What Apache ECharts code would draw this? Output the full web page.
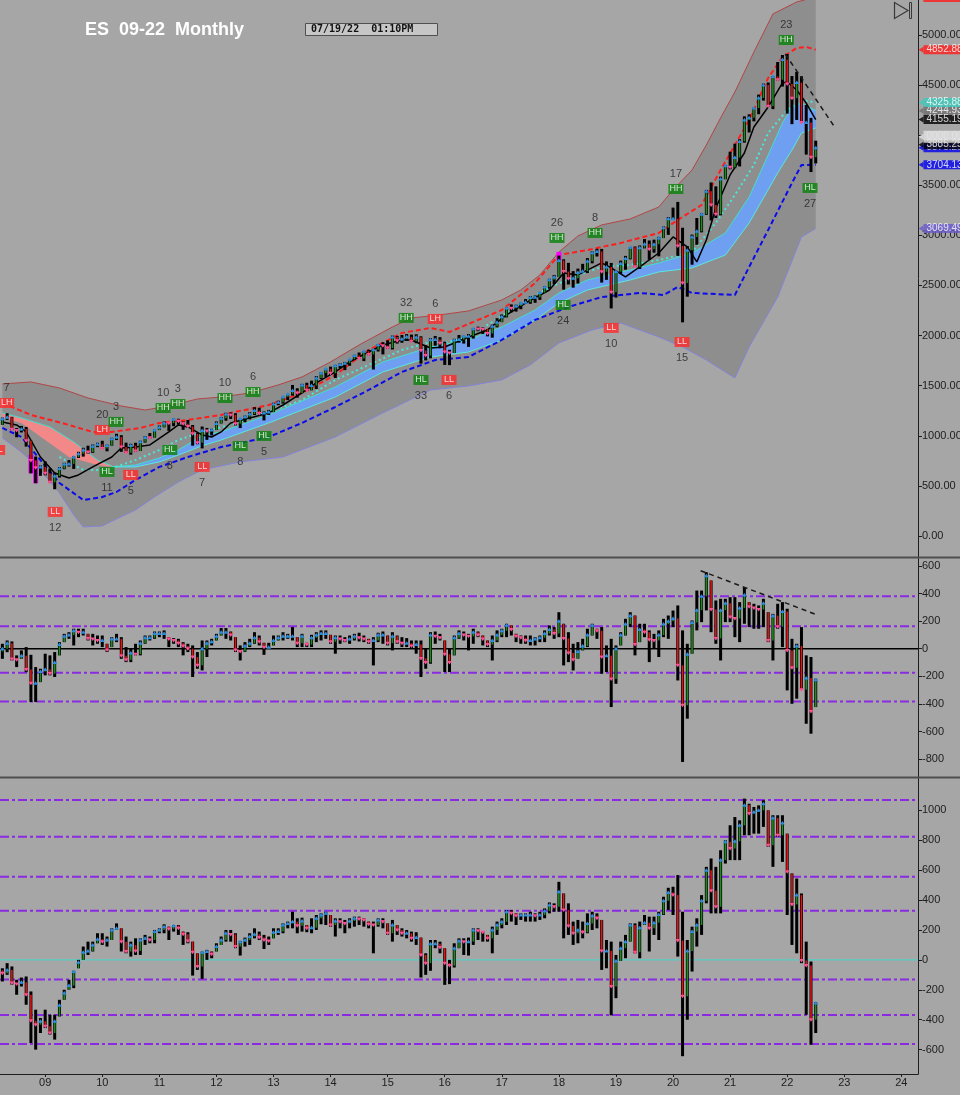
<!DOCTYPE html>
<html><head><meta charset="utf-8">
<script src="https://cdn.jsdelivr.net/npm/echarts@6/dist/echarts.min.js"></script>
<style>html,body{margin:0;padding:0;background:#a6a6a6;}#c{width:960px;height:1095px;}</style>
</head><body><div id="c"></div>
<script>
// ---------- categories / ticks ----------
const firstMonth = '2008-04';
const yearLabels = ['09','10','11','12','13','14','15','16','17','18','19','20','21','22','23','24'];
const yearTickIdx = [9,21,33,45,57,69,81,93,105,117,129,141,153,165,177,189];
const priceTicks = [0,500,1000,1500,2000,2500,3000,3500,4000,4500,5000];
// 4000.00 is hidden behind the last-price tags in the original
const priceTickLabels = [0,500,1000,1500,2000,2500,3000,3500,4500,5000];
const midTicks = [-800,-600,-400,-200,0,200,400,600];
const lowTicks = [-600,-400,-200,0,200,400,600,800,1000];
const midLevels = [381,164,-174,-382];
const lowLevels = [1069,824,556,329,-131,-369,-562];

// ---------- monthly price bars (Apr 2008 .. Jul 2022) ----------
const priceOpen = [
1111,1171,1185,1065,1052,1068,951,754,681,
688,626,535,598,673,719,719,787,821,857,836,896,
915,874,904,969,987,889,831,902,849,941,983,981,
1058,1086,1127,1126,1164,1145,1121,1092,1019,931,1053,1047,
1058,1122,1176,1218,1208,1120,1172,1189,1217,1251,1222,1226,
1236,1318,1335,1389,1418,1451,1426,1506,1453,1502,1577,1626,
1668,1623,1699,1712,1724,1764,1800,1771,1843,1812,1858,1908,
1899,1875,1985,1948,1966,1987,1943,1984,1852,1800,1959,1960,
1924,1835,1827,1955,1960,1992,1994,2069,2066,2063,2021,2094,
2134,2189,2274,2273,2294,2322,2333,2380,2382,2429,2485,2558,
2584,2749,2639,2566,2573,2630,2643,2741,2827,2839,2637,2685,
2432,2639,2719,2769,2881,2687,2877,2915,2861,2912,2973,3076,
3166,3166,2894,2525,2852,2984,3040,3211,3440,3303,3210,3562,
3696,3679,3776,3938,4151,4174,4271,4371,4501,4288,4586,4553,
4756,4511,4369,4525,4127,4127,3780];
const priceHigh = [
1182,1225,1189,1077,1098,1088,952,792,704,
744,675,632,688,730,757,796,840,880,901,913,930,
950,912,980,1020,1006,931,920,930,951,996,1027,1062,
1103,1144,1133,1171,1170,1146,1157,1107,1030,1092,1078,1070,
1143,1188,1230,1232,1225,1173,1202,1236,1285,1280,1244,1258,
1330,1350,1390,1418,1507,1474,1518,1529,1550,1596,1633,1669,
1690,1707,1724,1737,1764,1808,1831,1845,1859,1858,1915,1933,
1952,2000,1997,2006,2015,2010,2013,1993,1901,1974,1996,1984,
1939,1858,1968,2006,1998,2015,2073,2089,2083,2064,2109,2173,
2211,2281,2311,2308,2328,2364,2394,2401,2429,2492,2567,2605,
2798,2761,2726,2643,2668,2716,2773,2841,2866,2865,2740,2725,
2643,2748,2795,2885,2889,2899,2963,2949,2957,2985,3089,3183,
3277,3334,3076,2894,3008,3173,3220,3454,3528,3489,3586,3700,
3835,3915,3960,4188,4208,4275,4405,4515,4526,4590,4730,4800,
4810,4590,4632,4588,4302,4172,3945];
const priceLow = [
1109,1158,1057,985,1033,892,625,526,600,
605,535,466,583,666,693,669,778,792,820,829,886,
871,845,901,957,840,828,811,840,848,932,973,981,
1057,1084,1049,1095,1111,1059,1083,901,915,874,959,1003,
1058,1122,1150,1167,1102,1077,1135,1164,1207,1213,1153,1208,
1236,1305,1321,1356,1401,1380,1425,1448,1453,1467,1567,1587,
1610,1577,1674,1655,1699,1755,1770,1745,1804,1661,1841,1812,
1868,1861,1920,1928,1947,1936,1924,1720,1752,1773,1899,1873,
1707,1705,1826,1929,1920,1887,1970,2043,2015,1992,1979,2082,
2134,2181,2232,2239,2263,2315,2317,2327,2356,2429,2467,2515,
2584,2458,2510,2478,2519,2623,2624,2721,2789,2529,2556,2271,
2379,2616,2657,2760,2685,2664,2870,2757,2827,2791,2973,3005,
3154,2795,2132,2388,2707,2906,3030,3204,3149,3173,3200,3560,
3659,3670,3688,3925,4027,4138,4209,4345,4286,4260,4546,4485,
4215,4110,4152,4124,3806,3632,3718];
const priceClose = [
1171,1185,1065,1052,1068,951,754,681,688,
626,535,598,673,719,719,787,821,857,836,896,915,
874,904,969,987,889,831,902,849,941,983,981,1058,
1086,1127,1126,1164,1145,1121,1092,1019,931,1053,1047,1058,
1122,1176,1218,1208,1120,1172,1189,1217,1251,1222,1226,1236,
1318,1335,1389,1418,1451,1426,1506,1453,1502,1577,1626,1668,
1623,1699,1712,1724,1764,1800,1771,1843,1812,1858,1908,1899,
1875,1985,1948,1966,1987,1943,1984,1852,1800,1959,1960,1924,
1835,1827,1955,1960,1992,1994,2069,2066,2063,2021,2094,2134,
2189,2274,2273,2294,2322,2333,2380,2382,2429,2485,2558,2584,
2749,2639,2566,2573,2630,2643,2741,2827,2839,2637,2685,2432,
2639,2719,2769,2881,2687,2877,2915,2861,2912,2973,3076,3166,
3166,2894,2525,2852,2984,3040,3211,3440,3303,3210,3562,3696,
3679,3776,3938,4151,4174,4271,4371,4501,4288,4586,4553,4756,
4511,4369,4525,4127,4127,3780,3875];

// ---------- overlay studies on the price panel: [month index, value] ----------
const upperEnv = [[0,1517],[6,1537],[12,1477],[18,1377],[25,1297],[30,1257],[35,1297],[41,1367],[46,1387],[52,1427],[58,1507],[63,1587],[69,1737],[75,1906],[82,2086],[86,2176],[92,2206],[98,2246],[105,2355],[109,2455],[113,2605],[117,2834],[121,2994],[126,3104],[132,3164],[138,3283],[141,3453],[145,3653],[148,3902],[151,4172],[154,4431],[158,4830],[162,5210],[167,5329],[171,5380]];
const lowerEnv = [[0,978],[4,838],[8,659],[12,429],[15,210],[17,90],[21,100],[24,170],[28,259],[32,389],[37,539],[42,659],[50,739],[59,788],[70,988],[80,1228],[90,1457],[98,1497],[105,1557],[111,1707],[117,1926],[124,2056],[130,2126],[138,1986],[143,1886],[148,1756],[154,1577],[157,1886],[163,2385],[168,2984],[171,3069]];
const redBand = [[0,1327],[6,1208],[14,1108],[19,1038],[23,1038],[29,1078],[33,1128],[39,1158],[46,1208],[56,1307],[63,1427],[70,1607],[77,1856],[84,2026],[90,2076],[94,2036],[105,2255],[112,2525],[117,2804],[123,2854],[130,2924],[138,3024],[142,3154],[147,3303],[151,3653],[154,3902],[157,4152],[161,4571],[164,4780],[167,4870],[169,4880],[171,4853]];
const blueBand = [[0,1078],[4,988],[8,758],[12,529],[17,359],[21,389],[24,439],[28,559],[33,689],[39,788],[46,888],[56,988],[63,1128],[70,1287],[77,1457],[84,1637],[91,1756],[98,1786],[105,1956],[112,2156],[119,2285],[126,2385],[134,2425],[139,2405],[142,2485],[145,2425],[154,2405],[157,2685],[161,3054],[166,3523],[168,3703],[171,3704]];
const blackMA = [[0,1138],[3,1108],[5,1038],[8,788],[11,629],[14,579],[16,609],[19,689],[23,788],[25,878],[28,888],[31,908],[35,1038],[37,1108],[39,1088],[42,1008],[44,988],[46,1038],[48,1128],[52,1178],[56,1228],[59,1307],[63,1427],[66,1527],[70,1637],[73,1737],[77,1836],[80,1906],[84,1956],[86,1956],[90,1876],[93,1886],[98,1986],[102,2056],[106,2206],[110,2325],[115,2455],[118,2625],[121,2605],[126,2725],[128,2675],[131,2585],[134,2685],[138,2824],[141,2984],[144,2884],[146,2735],[148,2954],[150,3273],[153,3603],[156,3822],[158,4082],[161,4281],[164,4521],[165,4531],[167,4451],[169,4321],[171,4155]];
const cyanLine = [[12,788],[17,659],[22,659],[28,758],[33,858],[37,958],[42,1038],[48,1108],[56,1238],[63,1357],[70,1557],[77,1707],[84,1856],[90,1936],[93,1926],[98,1986],[107,2255],[114,2455],[120,2585],[126,2685],[132,2705],[138,2754],[145,2834],[150,3124],[154,3403],[158,3703],[161,4022],[165,4251],[168,4351],[171,4326]];
const pinkTop = [[0,1228],[4,1178],[10,1088],[15,938],[20,758],[23,699]];
const pinkBot = [[0,1178],[4,1128],[9,958],[14,788],[20,709],[23,689]];
const blueTop = [[23,689],[28,709],[33,778],[37,858],[42,1000],[46,1040],[56,1208],[70,1487],[80,1737],[90,1886],[98,1956],[105,2086],[112,2255],[117,2425],[123,2555],[132,2655],[138,2725],[145,2824],[152,3024],[157,3383],[161,3802],[164,4122],[166,4281],[168,4321],[171,4245]];
const blueBot = [[23,689],[28,689],[33,739],[37,808],[42,900],[46,958],[56,1128],[70,1387],[80,1637],[90,1786],[98,1836],[105,1956],[112,2156],[117,2325],[123,2455],[132,2555],[138,2635],[145,2675],[152,2804],[157,3124],[163,3623],[166,3852],[168,4022],[171,4072]];
const magentaSegs = [[6,810,625],[7,760,526],[117,2835,2755]];
const priceTrend = [[164.6,4810],[175.1,4072]];
// swing labels: [month, value, text, count, 1 = count above / -1 = below]
const swings = [[0.9,1327,'LH','7',1],[-1,858,'LL','',-1],[21,1058,'LH','20',1],[23.9,1138,'HH','3',1],[22,639,'HL','11',-1],[11.1,240,'LL','12',-1],[27,609,'LL','5',-1],[33.8,1277,'HH','10',1],[36.9,1317,'HH','3',1],[35.2,858,'HL','8',-1],[42,689,'LL','7',-1],[46.8,1377,'HH','10',1],[52.7,1437,'HH','6',1],[50,898,'HL','8',-1],[55,998,'HL','5',-1],[84.9,2176,'HH','32',1],[91,2166,'LH','6',1],[88,1557,'HL','33',-1],[93.9,1557,'LL','6',-1],[116.6,2974,'HH','26',1],[124.6,3024,'HH','8',1],[117.9,2305,'HL','24',-1],[128,2076,'LL','10',-1],[141.6,3463,'HH','17',1],[142.9,1936,'LL','15',-1],[164.8,4950,'HH','23',1],[169.8,3473,'HL','27',-1]];
// last-value tags on the price axis
const tagValues = [5372.88,4852.88,4244.93,4325.88,4155.19,3875.25,3905,3985,3704.13,3069.49];
const tagTexts  = ['5372.88','4852.88','4244.93','4325.88','4155.19','3875.25','3885.25','','3704.13','3069.49'];
const tagColors = ['#ff1a1a','#ff1a1a','#6e6e6e','#3cc9b9','#000000','#0000ee','#000000','#e4e4e4','#0000ee','#6a5acd'];

// ---------- middle oscillator ----------
const midOpen = [
-20,0,40,-75,-80,-50,-150,-250,-250,
-165,-150,-180,-100,30,90,100,130,120,120,75,70,
60,60,-10,70,70,-50,-80,-30,-40,40,80,80,
110,110,110,70,60,40,20,0,-60,-120,0,40,
50,90,120,120,100,-10,-20,20,40,80,50,10,
10,60,80,90,90,90,40,90,30,80,100,110,
110,50,80,70,60,70,90,80,70,50,60,100,
100,40,90,50,40,40,20,30,-70,-100,100,90,
80,-40,-100,80,110,100,90,120,100,70,30,60,
100,130,170,140,90,80,60,60,70,80,110,140,
110,200,75,-30,-80,-20,20,100,170,130,-60,-50,
-220,0,100,180,240,30,140,120,65,60,100,180,
200,220,-120,-410,-40,190,280,380,530,285,75,280,
330,230,220,295,390,305,295,285,330,60,240,160,
270,-12,-138,20,-297,-213,-455];
const midHigh = [
36,60,53,-48,-12,12,-44,-133,-145,
-36,-48,-24,48,108,120,145,145,145,108,108,96,
96,36,84,108,84,12,0,36,60,96,96,125,
125,133,84,77,72,48,36,24,-24,60,60,72,
108,150,150,125,84,24,48,72,120,96,43,43,
96,96,120,108,157,84,108,43,101,120,133,133,
101,96,96,84,96,108,116,96,72,84,116,125,
96,120,96,84,77,60,60,60,0,120,125,108,
60,0,96,133,125,108,145,125,96,60,96,133,
145,181,169,108,96,96,96,84,96,133,169,157,
265,181,120,36,48,72,145,181,145,157,24,72,
24,120,217,265,241,181,181,133,108,133,217,241,
277,314,133,36,205,422,422,555,495,350,362,362,
374,374,338,447,338,326,314,362,265,253,326,338,
290,72,36,157,-48,-60,-217];
const midLow = [
-73,-25,-85,-133,-73,-170,-386,-386,-242,
-193,-193,-205,-48,48,72,24,84,96,60,24,36,
12,-24,12,48,-73,-97,-97,-48,-48,36,60,72,
84,72,12,36,12,-48,-24,-205,-145,-157,-60,24,
60,96,72,60,-24,-85,-24,12,36,24,-44,0,
24,60,60,72,60,12,12,12,12,48,60,72,
36,-36,36,48,36,60,53,48,36,-121,48,36,
24,-12,36,12,12,0,-36,-205,-145,-109,36,60,
-169,-169,-48,72,60,-12,36,84,24,12,-85,48,
84,84,96,48,36,36,24,24,48,48,96,72,
84,-121,-97,-157,-72,-12,12,96,72,-181,-169,-423,
-254,24,96,157,-48,48,84,-97,0,-60,84,72,
157,-230,-821,-507,-36,133,193,278,120,36,-85,193,
193,84,48,181,157,145,145,157,48,-85,145,12,
-302,-399,-362,-290,-544,-616,-423];
const midClose = [
0,40,-75,-80,-50,-150,-250,-250,-165,
-150,-180,-100,30,90,100,130,120,120,75,70,60,
60,-10,70,70,-50,-80,-30,-40,40,80,80,110,
110,110,70,60,40,20,0,-60,-120,0,40,50,
90,120,120,100,-10,-20,20,40,80,50,10,10,
60,80,90,90,90,40,90,30,80,100,110,110,
50,80,70,60,70,90,80,70,50,60,100,100,
40,90,50,40,40,20,30,-70,-100,100,90,80,
-40,-100,80,110,100,90,120,100,70,30,60,100,
130,170,140,90,80,60,60,70,80,110,140,110,
200,75,-30,-80,-20,20,100,170,130,-60,-50,-220,
0,100,180,240,30,140,120,65,60,100,180,200,
220,-120,-410,-40,190,280,380,530,285,75,280,330,
230,220,295,390,305,295,285,330,60,240,160,270,
-12,-138,20,-297,-213,-455,-225];
const midTrend = [[146.8,566],[171.4,244]];

// ---------- lower oscillator ----------
const lowOpen = [
-70,-89,-67,-155,-162,-150,-233,-407,-433,
-411,-444,-489,-411,-304,-222,-171,-78,-16,51,60,100,
138,122,133,200,211,122,56,100,60,133,144,133,
189,200,222,207,229,211,171,127,51,-44,51,56,
38,89,133,178,170,89,122,133,156,171,150,133,
127,184,189,233,244,255,229,260,211,215,278,300,
311,233,260,255,244,260,278,273,267,238,233,267,
255,178,233,200,178,178,144,149,33,-22,107,107,
82,-22,-38,78,127,122,122,200,195,184,144,200,
233,255,322,311,295,300,300,300,295,300,327,367,
355,456,333,227,178,200,184,244,295,278,60,60,
-178,-7,78,122,233,51,215,249,211,249,304,395,
451,433,129,-244,60,189,233,395,600,462,355,667,
789,744,793,900,1033,978,989,1000,1044,767,949,833,
915,589,371,433,-4,-38,-400];
const lowHigh = [
-56,-22,-44,-133,-118,-111,-211,-333,-389,
-333,-367,-367,-267,-200,-133,-73,0,89,122,122,178,
178,156,211,244,211,156,122,144,144,167,156,200,
211,238,222,233,233,189,185,122,44,56,67,56,
111,156,200,200,178,127,149,178,211,189,167,156,
211,211,244,256,322,278,282,233,278,300,311,322,
300,278,278,267,278,289,289,278,256,256,278,278,
244,267,233,211,200,189,185,149,44,133,133,122,
78,0,111,144,144,149,211,211,189,167,222,256,
278,333,333,311,311,311,322,311,322,344,384,378,
522,444,378,256,267,256,311,322,311,267,133,122,
33,122,167,244,244,256,300,289,289,322,422,482,
489,567,322,133,222,278,433,622,678,622,733,800,
900,955,933,1078,1044,1022,1033,1067,1000,967,967,967,
844,578,544,444,122,-11,-282];
const lowLow = [
-144,-100,-166,-233,-178,-300,-556,-600,-489,
-456,-500,-533,-378,-267,-200,-189,-56,0,33,56,111,
100,89,133,200,56,44,22,33,33,100,111,111,
178,178,133,189,167,100,111,-105,-67,-127,0,11,
56,100,122,122,78,29,89,100,144,133,73,100,
144,167,178,211,211,178,189,185,178,200,238,233,
222,156,211,178,211,222,233,222,211,44,222,211,
167,122,167,156,144,122,100,-118,-100,-73,78,44,
-167,-162,-51,78,33,29,100,133,122,122,44,167,
211,233,256,233,267,256,256,256,267,278,311,322,
322,144,167,100,111,144,178,200,211,-67,-56,-371,
-256,-7,11,122,44,11,233,56,167,133,300,333,
300,22,-644,-400,-78,89,167,378,311,311,311,644,
667,667,667,833,833,844,844,889,756,622,822,655,
300,100,44,-22,-367,-567,-489];
const lowClose = [
-89,-67,-155,-162,-150,-233,-407,-433,-411,
-444,-489,-411,-304,-222,-171,-78,-16,51,60,100,138,
122,133,200,211,122,56,100,60,133,144,133,189,
200,222,207,229,211,171,127,51,-44,51,56,38,
89,133,178,170,89,122,133,156,171,150,133,127,
184,189,233,244,255,229,260,211,215,278,300,311,
233,260,255,244,260,278,273,267,238,233,267,255,
178,233,200,178,178,144,149,33,-22,107,107,82,
-22,-38,78,127,122,122,200,195,184,144,200,233,
255,322,311,295,300,300,300,295,300,327,367,355,
456,333,227,178,200,184,244,295,278,60,60,-178,
-7,78,122,233,51,215,249,211,249,304,395,451,
433,129,-244,60,189,233,395,600,462,355,667,789,
744,793,900,1033,978,989,1000,1044,767,949,833,915,
589,371,433,-4,-38,-400,-289];

// ================= drawing =================
const FONT = '"Liberation Sans", Arial, sans-serif';
const AX = '#1e1e1e';
const chart = echarts.init(document.getElementById('c'), null, {renderer: 'canvas', width: 960, height: 1095});

function bars(o, h, l, c) { return c.map((v, i) => [i, o[i], h[i], l[i], v]); }
function ohlcRender(params, api) {
  const x = api.value(0), o = api.value(1), h = api.value(2), l = api.value(3), c = api.value(4);
  const top = api.coord([x, h]), bot = api.coord([x, l]);
  const oc = Math.max(l, Math.min(h, o));
  const po = api.coord([x, oc]), pc = api.coord([x, c]);
  const up = c >= o, cx = top[0];
  const tri = up ? [[cx - 2.5, pc[1] + 1.5], [cx + 2.5, pc[1] + 1.5], [cx, pc[1] - 2]]
                 : [[cx - 2.5, pc[1] - 1.5], [cx + 2.5, pc[1] - 1.5], [cx, pc[1] + 2]];
  return {type: 'group', children: [
    {type: 'rect', shape: {x: cx - 1.5, y: top[1], width: 3, height: Math.max(1, bot[1] - top[1])}, style: {fill: '#000'}},
    {type: 'rect', shape: {x: cx - 0.8, y: Math.min(po[1], pc[1]), width: 1.6, height: Math.max(1, Math.abs(po[1] - pc[1]))}, style: {fill: up ? '#1f8a1f' : '#e01414'}},
    {type: 'polygon', shape: {points: tri}, style: {fill: up ? '#2b8ce0' : '#ff4d94'}}
  ]};
}
function ohlcSeries(data, g, z) {
  return {type: 'custom', xAxisIndex: g, yAxisIndex: g, data, renderItem: ohlcRender,
    encode: {x: 0, y: [1, 2, 3, 4]}, silent: true, z, animation: false};
}
function poly(top, bottom, color, g, z) {
  return {type: 'custom', xAxisIndex: g, yAxisIndex: g, data: [[0, 0]], silent: true, z, animation: false, clip: true,
    renderItem: (p, api) => ({type: 'polygon',
      shape: {points: top.map(k => api.coord(k)).concat(bottom.slice().reverse().map(k => api.coord(k)))},
      style: {fill: color}})};
}
function line(data, g, style, z) {
  return {type: 'line', xAxisIndex: g, yAxisIndex: g, data, symbol: 'none', silent: true, z, animation: false, clip: true, lineStyle: style};
}
function levels(vals, g, style, z) {
  return vals.map(v => line([[-0.5, v], [192.5, v]], g, style, z));
}

const series = [];
// ---- price panel ----
series.push(poly(upperEnv, lowerEnv, '#8e8e8e', 0, 1));
series.push(line(upperEnv, 0, {color: '#b04646', width: 1}, 2));
series.push(line(lowerEnv, 0, {color: '#8484d8', width: 1}, 2));
series.push(poly(pinkTop, pinkBot, '#f28888', 0, 3));
series.push(poly(blueTop, blueBot, '#6f9ff0', 0, 3));
series.push(line(pinkTop, 0, {color: '#40e0d0', width: 1}, 4));
series.push(line(blueTop, 0, {color: '#40e0d0', width: 1}, 4));
series.push(line(blueBot, 0, {color: '#58e8dc', width: 1}, 4));
series.push(line(cyanLine, 0, {color: '#48e8d8', width: 2, type: [2, 3]}, 5));
series.push(line(redBand, 0, {color: '#ff1e1e', width: 2, type: [5, 3]}, 5));
series.push(line(blueBand, 0, {color: '#0a0aee', width: 2, type: [5, 3]}, 5));
series.push(line(blackMA, 0, {color: '#000', width: 1.5}, 6));
series.push({type: 'custom', xAxisIndex: 0, yAxisIndex: 0, data: magentaSegs, silent: true, z: 7, animation: false,
  encode: {x: 0, y: [1, 2]},
  renderItem: (p, api) => {
    const a = api.coord([api.value(0), api.value(1)]), b = api.coord([api.value(0), api.value(2)]);
    return {type: 'rect', shape: {x: a[0] - 2.5, y: a[1], width: 5, height: b[1] - a[1]}, style: {fill: '#ff00ff'}};
  }});
series.push(ohlcSeries(bars(priceOpen, priceHigh, priceLow, priceClose), 0, 8));
series.push(line(priceTrend, 0, {color: '#1a1a1a', width: 1.5, type: [5, 4]}, 9));
series.push({type: 'scatter', xAxisIndex: 0, yAxisIndex: 0, silent: true, z: 10, animation: false, clip: false,
  symbol: 'rect', symbolSize: [15, 10],
  data: swings.map(s => ({value: [s[0], s[1]], itemStyle: {color: s[2][0] === 'H' ? '#0a820a' : '#ff2b2b'}})),
  label: {show: true, position: 'inside', fontSize: 9, color: '#fff', fontFamily: FONT,
    formatter: p => swings[p.dataIndex][2]}});
series.push({type: 'scatter', xAxisIndex: 0, yAxisIndex: 0, silent: true, z: 10, animation: false, clip: false,
  symbolSize: 0,
  data: swings.map(s => ({value: [s[0], s[1]], label: {offset: [0, s[4] > 0 ? -15 : 16]}})),
  label: {show: true, position: 'inside', fontSize: 11, color: '#222', fontFamily: FONT,
    formatter: p => swings[p.dataIndex][3]}});
series.push({type: 'scatter', xAxisIndex: 0, yAxisIndex: 0, silent: true, z: 11, zlevel: 1, animation: false, clip: false,
  symbol: 'triangle', symbolRotate: 90, symbolSize: [6, 5], symbolOffset: [3, 0],
  data: tagValues.map((v, i) => ({value: [192.5, v], itemStyle: {color: tagColors[i]},
    label: tagTexts[i]
      ? {backgroundColor: tagColors[i], color: '#fff', width: 36}
      : {backgroundColor: tagColors[i], color: tagColors[i], width: 40, padding: [1, 2, 1, 3]}})),
  label: {show: true, position: 'right', distance: 0, fontSize: 10, lineHeight: 10, fontFamily: FONT, padding: [0, 2, -1, 3],
    formatter: p => tagTexts[p.dataIndex] || '0000.00'}});

// ---- middle panel ----
levels(midLevels, 1, {color: '#8a2be2', width: 2, type: [9, 3, 3, 3]}, 2).forEach(s => series.push(s));
series.push(line([[-0.5, 0], [192.5, 0]], 1, {color: '#000', width: 1.5}, 3));
series.push(ohlcSeries(bars(midOpen, midHigh, midLow, midClose), 1, 5));
series.push(line(midTrend, 1, {color: '#1a1a1a', width: 1.5, type: [5, 4]}, 6));

// ---- lower panel ----
levels(lowLevels, 2, {color: '#8a2be2', width: 2, type: [9, 3, 3, 3]}, 2).forEach(s => series.push(s));
series.push(line([[-0.5, 0], [192.5, 0]], 2, {color: '#40d8cc', width: 1}, 3));
series.push(ohlcSeries(bars(lowOpen, lowHigh, lowLow, lowClose), 2, 5));

function yAx(g, min, max, ticks, labels, fmt) {
  return {type: 'value', gridIndex: g, position: 'right', min, max,
    axisLine: {show: true, onZero: false, lineStyle: {color: AX, width: 1}},
    axisTick: {show: true, customValues: ticks, length: 4, lineStyle: {color: AX}},
    axisLabel: {show: true, customValues: labels, formatter: fmt, color: '#202020', fontSize: 11, fontFamily: FONT, margin: 4},
    splitLine: {show: false}};
}
function xAx(g) {
  return {type: 'value', gridIndex: g, min: -0.5, max: 192.5, show: g === 2,
    axisLine: {show: true, onZero: false, lineStyle: {color: AX}},
    axisTick: {show: true, customValues: yearTickIdx, length: 3, lineStyle: {color: AX}},
    axisLabel: {show: true, customValues: yearTickIdx, formatter: v => yearLabels[yearTickIdx.indexOf(Math.round(v))] || '',
      color: '#202020', fontSize: 11, fontFamily: FONT, margin: 3},
    splitLine: {show: false}};
}
const gridBase = {left: 0, right: 42, containLabel: false, outerBoundsMode: 'none'};

chart.setOption({
  backgroundColor: '#a6a6a6',
  animation: false,
  textStyle: {fontFamily: FONT},
  grid: [
    Object.assign({top: 0, height: 557}, gridBase),
    Object.assign({top: 558, height: 219}, gridBase),
    Object.assign({top: 778, height: 296}, gridBase)
  ],
  xAxis: [xAx(0), xAx(1), xAx(2)],
  yAxis: [
    yAx(0, -210, 5349, priceTicks, priceTickLabels, v => v.toFixed(2)),
    yAx(1, -930, 658, midTicks, midTicks, v => String(v)),
    yAx(2, -763, 1216, lowTicks, lowTicks, v => String(v))
  ],
  series,
  graphic: [
    {type: 'rect', shape: {x: 0, y: 556.5, width: 960, height: 2}, style: {fill: '#4e4e4e'}, z: 100},
    {type: 'rect', shape: {x: 0, y: 776.5, width: 960, height: 2}, style: {fill: '#4e4e4e'}, z: 100},
    {type: 'text', x: 85, y: 21, style: {text: 'ES  09-22  Monthly', fill: '#ffffff', font: 'bold 18px ' + FONT}, z: 100},
    {type: 'rect', shape: {x: 305.5, y: 23.5, width: 132, height: 12}, style: {fill: '#c6c6c6', stroke: '#505050', lineWidth: 1}, z: 100},
    {type: 'text', x: 311, y: 24.5, style: {text: '07/19/22  01:10PM', fill: '#111', font: 'bold 10px "DejaVu Sans Mono", monospace'}, z: 101},
    {type: 'polygon', shape: {points: [[894.5, 2.5], [894.5, 18.5], [908, 10.5]]}, style: {fill: 'none', stroke: '#3a3a3a', lineWidth: 1.2}, z: 100},
    {type: 'rect', shape: {x: 909.5, y: 2.5, width: 2, height: 16}, style: {fill: 'none', stroke: '#3a3a3a', lineWidth: 1}, z: 100}
  ]
});
</script></body></html>
